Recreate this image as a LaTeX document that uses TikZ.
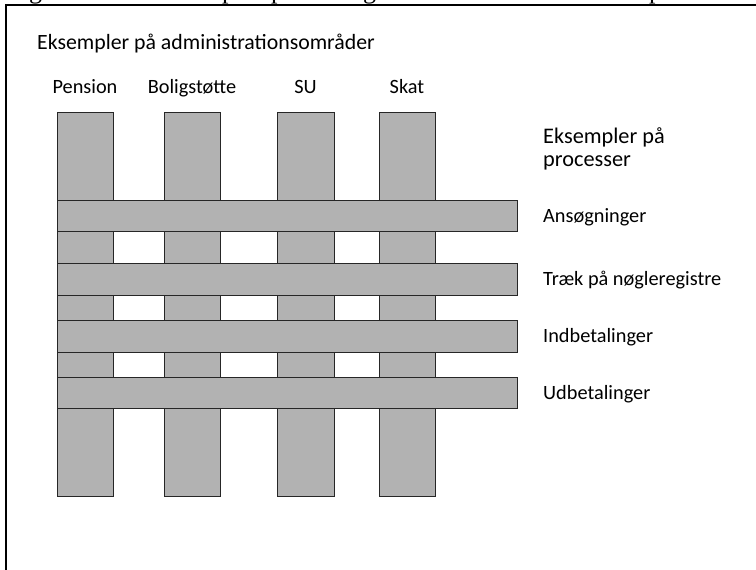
\documentclass[tikz,border=0pt]{standalone}
\usepackage{fontspec}
\setmainfont{Carlito}
\newfontfamily\capfont{Liberation Serif}
\begin{document}
\begin{tikzpicture}[x=1pt,y=-1pt,
  band/.style={draw=black!85,line width=0.9pt,fill=black!30},
  lbl/.style={font=\fontsize{20.3}{24}\selectfont,inner sep=0pt},
  biglbl/.style={font=\fontsize{22.3}{26}\selectfont,inner sep=0pt},
  frameline/.style={line width=2pt,black}]
\useasboundingbox (0,0) rectangle (756,570);
% clipped caption descenders (caption above the figure, cut off in the source)
\begin{scope}
\clip (0,0) rectangle (756,4);
\foreach \x/\ch [count=\i] in {29/g,222/p,271/p,363/g,649/p}
  \node[font=\capfont\fontsize{26}{30}\selectfont,anchor=base west,inner sep=0pt] (cap\i) at (\x,-1.5) {\ch};
\end{scope}
% frame
\coordinate (ftl) at (6,5);
\coordinate (ftr) at (756,5);
\coordinate (fbl) at (6,570);
\draw[frameline] (fbl) -- (ftl) -- (ftr);
% columns
\foreach \a/\b [count=\i] in {57/113,164/220,277/334,379/435}
  \draw[band] (\a,112) rectangle (\b,496);
% bars
\foreach \t/\u [count=\i] in {200/231,263/295,320/352,377/408}
  \draw[band] (57,\t) rectangle (517,\u);
% texts
\node[font=\fontsize{21.8}{26}\selectfont,inner sep=0pt,anchor=base west] (title) at (37,49) {Eksempler på administrationsområder};
\node[lbl,anchor=base] (pension) at (85,93) {Pension};
\node[lbl,anchor=base] (bolig) at (192,93) {Boligstøtte};
\node[lbl,anchor=base] (su) at (305.5,93) {SU};
\node[lbl,anchor=base] (skat) at (407,93) {Skat};
\node[biglbl,anchor=base west] (proc) at (543,143) {Eksempler på};
\node[biglbl,anchor=base west] (proc2) at (543,166) {processer};
\node[lbl,anchor=base west] (p1) at (543,222) {Ansøgninger};
\node[lbl,anchor=base west] (p2) at (543,285.5) {Træk på nøgleregistre};
\node[lbl,anchor=base west] (p3) at (543,342.5) {Indbetalinger};
\node[lbl,anchor=base west] (p4) at (543,399) {Udbetalinger};
\end{tikzpicture}
\end{document}
